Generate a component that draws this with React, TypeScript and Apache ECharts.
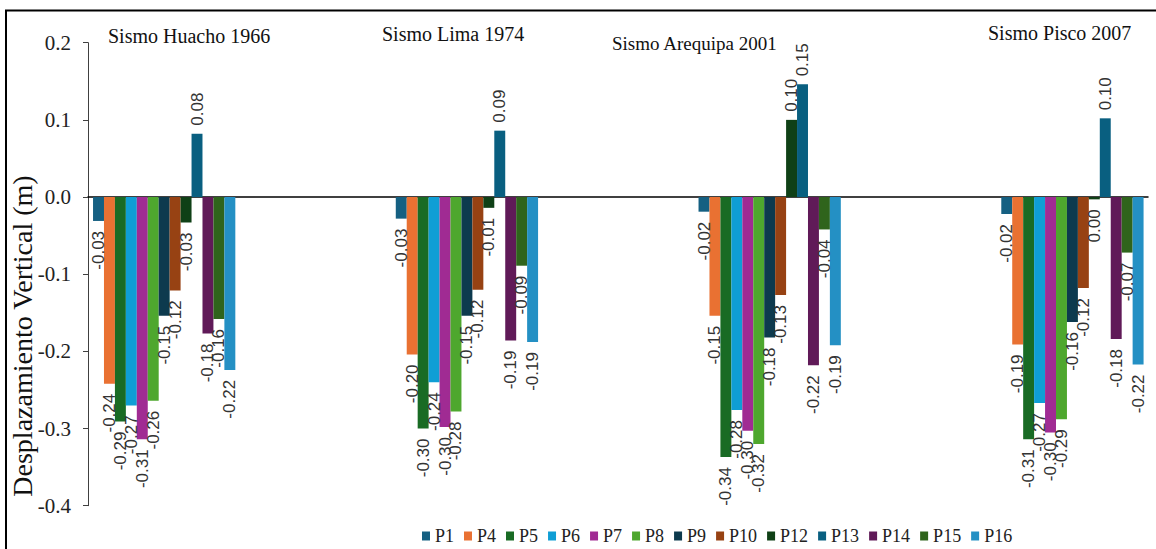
import React, { useEffect, useRef } from "react";
import * as echarts from "echarts";

const categories = ["Sismo Huacho 1966", "Sismo Lima 1974", "Sismo Arequipa 2001", "Sismo Pisco 2007"];
const seriesNames = ["P1", "P4", "P5", "P6", "P7", "P8", "P9", "P10", "P12", "P13", "P14", "P15", "P16"];
const seriesColors = [
  "#156082", "#E97132", "#196B24", "#0F9ED5", "#A02B93", "#4EA72E", "#0D3A4E",
  "#974213", "#0F4016", "#095F80", "#601A58", "#2F641C", "#2490C4",
];
// values per series, one per earthquake (Huacho, Lima, Arequipa, Pisco)
const P1 = [-0.031, -0.028, -0.019, -0.022];
const P4 = [-0.242, -0.204, -0.154, -0.191];
const P5 = [-0.291, -0.300, -0.337, -0.314];
const P6 = [-0.270, -0.240, -0.276, -0.267];
const P7 = [-0.314, -0.298, -0.303, -0.305];
const P8 = [-0.264, -0.278, -0.320, -0.288];
const P9 = [-0.154, -0.154, -0.182, -0.162];
const P10 = [-0.121, -0.120, -0.127, -0.118];
const P12 = [-0.033, -0.014, 0.100, -0.003];
const P13 = [0.082, 0.086, 0.146, 0.102];
const P14 = [-0.177, -0.186, -0.218, -0.184];
const P15 = [-0.158, -0.089, -0.042, -0.072];
const P16 = [-0.224, -0.188, -0.192, -0.217];
const seriesValues = [P1, P4, P5, P6, P7, P8, P9, P10, P12, P13, P14, P15, P16];

const yTicks = { min: -0.4, max: 0.2, interval: 0.1 };
const yTitle = "Desplazamiento Vertical (m)";

const SERIF = "Liberation Serif";
const SANS = "Liberation Sans";

export default function App() {
  const ref = useRef<HTMLDivElement>(null);
  useEffect(() => {
    if (!ref.current) return;
    const chart = echarts.init(ref.current, null, { renderer: "svg" });
    const top = 42.7;
    const bottom = 43.3;
    const fmt = (v: number) => {
      let s = v.toFixed(2);
      if (s === "-0.00") s = "0.00";
      return s;
    };
    const series = seriesNames.map((name, i) => ({
      name,
      type: "bar",
      xAxisIndex: 1,
      yAxisIndex: 1,
      barGap: "0%",
      barCategoryGap: "53%",
      itemStyle: { color: seriesColors[i] },
      data: seriesValues[i].map((v) => ({
        value: v,
        label: {
          show: true,
          position: v >= 0 ? "top" : "bottom",
          rotate: 90,
          align: v >= 0 ? "left" : "right",
          verticalAlign: "middle",
          distance: v >= 0 ? 8 : 10,
          fontFamily: SANS,
          fontSize: 17,
          color: "#333333",
          formatter: () => fmt(v),
        },
      })),
    }));
    const titlePos = [
      [108, 36, 20],
      [382, 34, 20],
      [612, 43, 19],
      [988, 33, 20],
    ];
    chart.setOption({
      animation: false,
      color: seriesColors,
      textStyle: { fontFamily: SERIF },
      grid: [
        { left: 88, right: 8, top, bottom, outerBoundsMode: "none" },
        { left: 12.8, width: 1211, top, bottom, outerBoundsMode: "none" },
      ],
      xAxis: [
        {
          type: "category",
          gridIndex: 0,
          data: categories,
          axisLine: { show: true, onZero: true, lineStyle: { color: "#000", width: 1.5 } },
          axisTick: { show: false },
          axisLabel: { show: false },
        },
        {
          type: "category",
          gridIndex: 1,
          data: categories,
          show: false,
        },
      ],
      yAxis: [
        {
          type: "value",
          gridIndex: 0,
          min: yTicks.min,
          max: yTicks.max,
          interval: yTicks.interval,
          axisLine: { show: true, lineStyle: { color: "#404040", width: 1 } },
          axisTick: { show: true, length: 5, lineStyle: { color: "#404040" } },
          splitLine: { show: false },
          axisLabel: {
            fontFamily: SERIF,
            fontSize: 21,
            color: "#222",
            margin: 17,
            formatter: (v: number) => v.toFixed(1),
          },
        },
        {
          type: "value",
          gridIndex: 1,
          min: yTicks.min,
          max: yTicks.max,
          interval: yTicks.interval,
          show: false,
          splitLine: { show: false },
        },
      ],
      legend: {
        data: seriesNames,
        left: 417,
        top: 522,
        itemWidth: 8,
        itemHeight: 9,
        itemGap: 10,
        icon: "rect",
        textStyle: { fontFamily: SERIF, fontSize: 18, color: "#222" },
      },
      graphic: [
        { type: "line", shape: { x1: 5, y1: 10.5, x2: 1156, y2: 10.5 }, style: { stroke: "#000", lineWidth: 2 } },
        { type: "line", shape: { x1: 6, y1: 10, x2: 6, y2: 549 }, style: { stroke: "#000", lineWidth: 2 } },
        ...categories.map((c, i) => ({
          type: "text",
          x: titlePos[i][0],
          y: titlePos[i][1],
          style: {
            text: c,
            fontFamily: SERIF,
            fontSize: titlePos[i][2],
            fill: "#111",
            textAlign: "left",
            textVerticalAlign: "middle",
          },
        })),
        {
          type: "text",
          x: 22,
          y: 336,
          rotation: Math.PI / 2,
          style: {
            text: yTitle,
            fontFamily: SERIF,
            fontSize: 28,
            fill: "#111",
            textAlign: "center",
            textVerticalAlign: "middle",
          },
        },
      ],
      series,
    });
    return () => chart.dispose();
  }, []);
  return (
    <div
      ref={ref}
      style={{ position: "fixed", left: 0, top: 0, width: "1156px", height: "549px", background: "#fff" }}
    />
  );
}
